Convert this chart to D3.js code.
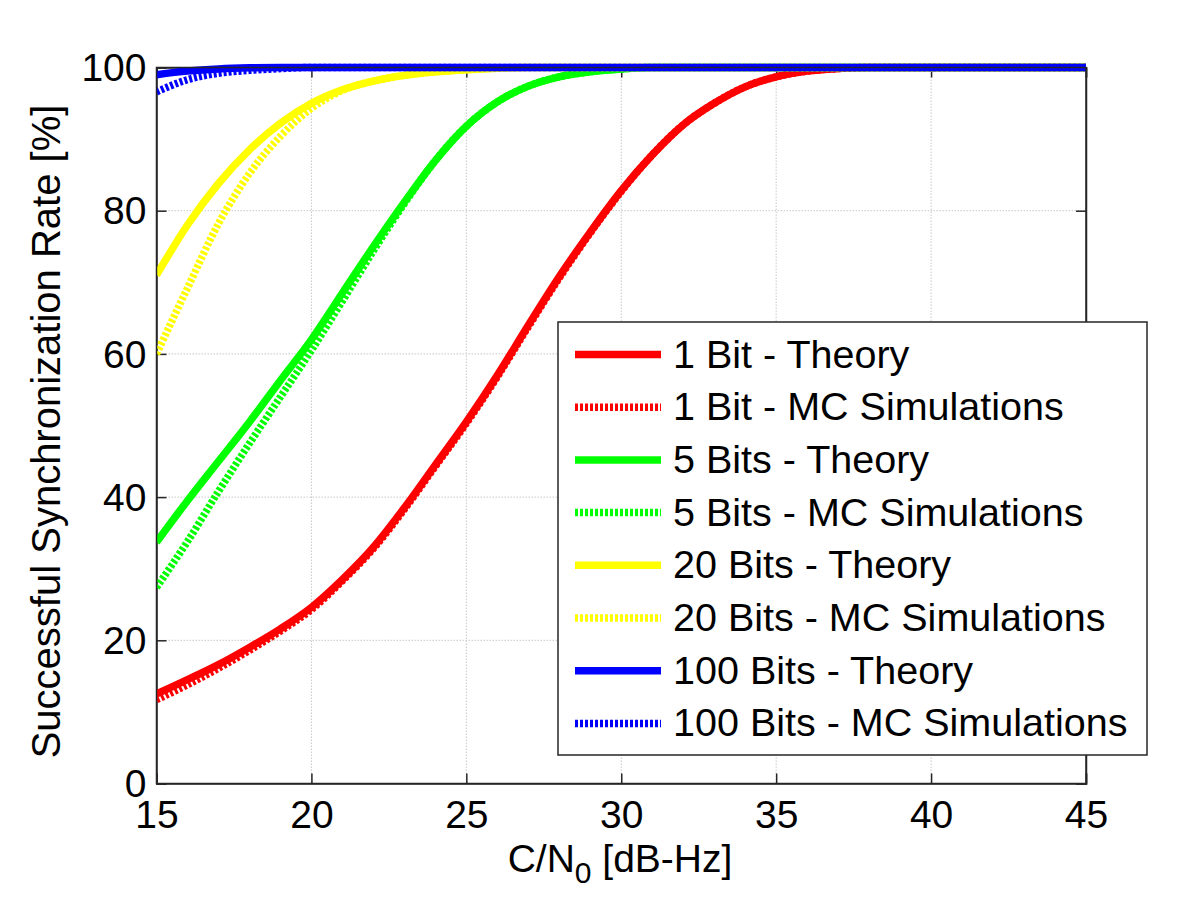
<!DOCTYPE html>
<html><head><meta charset="utf-8">
<script src="https://cdn.jsdelivr.net/npm/d3@7"></script>
<style>body{margin:0;background:#fff;} text{font-family:Arial,"Liberation Sans",sans-serif;}</style>
</head><body>
<svg id="c" width="1200" height="900"></svg>
<script>
const xValues = d3.range(15, 46, 1);
const xTicks = [15, 20, 25, 30, 35, 40, 45];
const yTicks = [0, 20, 40, 60, 80, 100];
const bit1Theory = [12.5,14.5,16.6,19,21.6,24.6,28.5,33,38.5,44.5,50.5,57,64,70.8,77,82.8,87.8,92,95,97.3,98.7,99.5,99.85,100,100,100,100,100,100,100,100];
const bit1MC     = [11.7,13.8,16.1,18.6,21.3,24.3,28.3,32.8,38.3,44.3,50.3,56.8,63.8,70.6,76.9,82.7,87.8,92,95,97.3,98.7,99.5,99.85,100,100,100,100,100,100,100,100];
const bit5Theory = [33.7,39.5,45,50.5,56.3,62,68.5,75,81.2,87,91.8,95.2,97.4,98.7,99.4,99.8,100,100,100,100,100,100,100,100,100,100,100,100,100,100,100];
const bit5MC     = [27.4,33.8,40.8,47.5,54,60.5,67.4,74.4,81,87,91.8,95.2,97.4,98.7,99.4,99.8,100,100,100,100,100,100,100,100,100,100,100,100,100,100,100];
const bit20Theory= [71,78,83.8,88.5,92.2,95,96.9,98.1,98.9,99.4,99.7,99.9,100,100,100,100,100,100,100,100,100,100,100,100,100,100,100,100,100,100,100];
const bit20MC    = [60,69.2,78.2,85.2,90.4,94.3,96.8,98.1,98.9,99.4,99.7,99.9,100,100,100,100,100,100,100,100,100,100,100,100,100,100,100,100,100,100,100];
const bit100Theory=[99,99.5,99.8,99.95,100,100,100,100,100,100,100,100,100,100,100,100,100,100,100,100,100,100,100,100,100,100,100,100,100,100,100];
const bit100MC   = [96.6,98.3,99.2,99.6,99.85,100,100,100,100,100,100,100,100,100,100,100,100,100,100,100,100,100,100,100,100,100,100,100,100,100,100];
const seriesNames = ["1 Bit - Theory","1 Bit - MC Simulations","5 Bits - Theory","5 Bits - MC Simulations","20 Bits - Theory","20 Bits - MC Simulations","100 Bits - Theory","100 Bits - MC Simulations"];
const seriesColors = ["#ff0000","#ff0000","#00ff00","#00ff00","#ffff00","#ffff00","#0000ff","#0000ff"];
const seriesDotted = [false,true,false,true,false,true,false,true];
const seriesData = [bit1Theory,bit1MC,bit5Theory,bit5MC,bit20Theory,bit20MC,bit100Theory,bit100MC];

const svg = d3.select("#c");
const L = 156.5, R = 1086, T = 67.5, B = 783.5;
const x = d3.scaleLinear().domain([15,45]).range([L,R]);
const y = d3.scaleLinear().domain([0,100]).range([B,T]);

// grid
const grid = svg.append("g");
xTicks.forEach(t => { if (t>15 && t<45) grid.append("line").attr("x1",x(t)).attr("x2",x(t)).attr("y1",T).attr("y2",B)
  .attr("stroke","#c8c8c8").attr("stroke-width",1).attr("stroke-dasharray","1.5,1.5"); });
yTicks.forEach(t => { if (t>0 && t<100) grid.append("line").attr("x1",L).attr("x2",R).attr("y1",y(t)).attr("y2",y(t))
  .attr("stroke","#c8c8c8").attr("stroke-width",1).attr("stroke-dasharray","1.5,1.5"); });

// axes
const fs = 39;
const xAxis = svg.append("g").attr("transform",`translate(0,${B})`).call(d3.axisBottom(x).tickValues(xTicks).tickSize(-10).tickPadding(17));
const xAxisTop = svg.append("g").attr("transform",`translate(0,${T})`).call(d3.axisTop(x).tickValues(xTicks).tickSize(-10).tickFormat(""));
const yAxis = svg.append("g").attr("transform",`translate(${L},0)`).call(d3.axisLeft(y).tickValues(yTicks).tickSize(-10).tickPadding(10));
const yAxisR = svg.append("g").attr("transform",`translate(${R},0)`).call(d3.axisRight(y).tickValues(yTicks).tickSize(-10).tickFormat(""));
[xAxis,xAxisTop,yAxis,yAxisR].forEach(g => {
  g.selectAll("path.domain").attr("stroke","#262626").attr("stroke-width",1.5);
  g.selectAll(".tick line").attr("stroke","#262626").attr("stroke-width",1.5);
  g.selectAll("text").attr("font-size",fs).attr("fill","#000").attr("font-family","Arial, 'Liberation Sans', sans-serif");
});
yAxis.selectAll("text").attr("dy","0.34em");

// lines
svg.append("clipPath").attr("id","pc").append("rect").attr("x",L).attr("y",T-6).attr("width",R-L).attr("height",B-T+12);
const line = d3.line().curve(d3.curveMonotoneX).x((d,i)=>x(xValues[i])).y(d=>y(d));
const lg = svg.append("g").attr("clip-path","url(#pc)");
seriesData.forEach((s,i) => {
  lg.append("path").datum(s).attr("d",line).attr("fill","none")
    .attr("stroke",seriesColors[i]).attr("stroke-width",7.5)
    .attr("stroke-linejoin","round")
    .attr("stroke-dasharray", seriesDotted[i] ? "3,2" : null);
});

// redraw box on top
svg.append("rect").attr("x",L).attr("y",T).attr("width",R-L).attr("height",B-T).attr("fill","none").attr("stroke","#262626").attr("stroke-width",1.5);

// legend
const lx = 558, ly = 322, lw = 589, lh = 433;
const leg = svg.append("g");
leg.append("rect").attr("x",lx).attr("y",ly).attr("width",lw).attr("height",lh).attr("fill","#fff").attr("stroke","#262626").attr("stroke-width",1.5);
seriesNames.forEach((n,i) => {
  const cy = 354.5 + i*52.7;
  leg.append("line").attr("x1",575).attr("x2",661).attr("y1",cy).attr("y2",cy)
    .attr("stroke",seriesColors[i]).attr("stroke-width",7.5).attr("stroke-dasharray", seriesDotted[i] ? "3,2" : null);
  leg.append("text").attr("x",673).attr("y",cy).attr("dy","0.33em").attr("font-size",39.5).text(n);
});

// axis labels
const xl = svg.append("text").attr("x",620).attr("y",872).attr("text-anchor","middle").attr("font-size",fs);
xl.append("tspan").text("C/N");
xl.append("tspan").attr("font-size",30).attr("dy",11).text("0");
xl.append("tspan").attr("dy",-11).text(" [dB-Hz]");
svg.append("text").attr("transform",`translate(60,${(T+B)/2 + 6}) rotate(-90)`).attr("text-anchor","middle").attr("font-size",40)
  .text("Successful Synchronization Rate [%]");
</script>
</body></html>
